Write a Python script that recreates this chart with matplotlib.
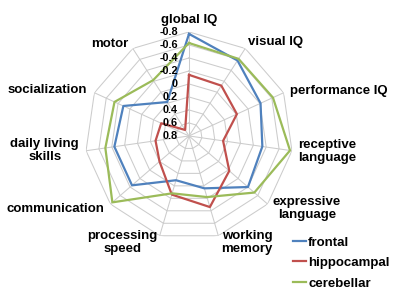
import numpy as np
import matplotlib.pyplot as plt

plt.rcParams['font.family'] = ['Liberation Sans', 'DejaVu Sans']

# radar categories, clockwise from the top
categories = ['global IQ', 'visual IQ', 'performance IQ', 'receptive\nlanguage',
              'expressive\nlanguage', 'working\nmemory', 'processing\nspeed',
              'communication', 'daily living\nskills', 'socialization', 'motor']

frontal = [-0.77, -0.58, -0.41, -0.34, -0.40, -0.04, 0.09, -0.36, -0.36, -0.31, 0.18]
hippocampal = [-0.14, -0.12, -0.01, 0.27, -0.02, -0.34, -0.14, 0.20, 0.28, 0.33, 0.69]
cerebellar = [-0.63, -0.61, -0.62, -0.77, -0.53, -0.18, -0.12, -0.76, -0.50, -0.46, -0.22]

series_names = ['frontal', 'hippocampal', 'cerebellar']
colors = ['#4F81BD', '#C0504D', '#9BBB59']

ticks = [-0.8, -0.6, -0.4, -0.2, 0, 0.2, 0.4, 0.6, 0.8]
v_top = 0.8  # value at the centre (axis is reversed)

fig = plt.figure(figsize=(4, 2.93), dpi=100)
ax = fig.add_axes([0.2125, 0.181, 0.52, 0.71], projection='polar')
ax.set_theta_offset(np.pi / 2)
ax.set_theta_direction(-1)
ax.set_ylim(0, v_top - ticks[0])
ax.grid(False)
ax.spines['polar'].set_visible(False)
ax.set_xticks([])
ax.set_yticks([])
ax.patch.set_alpha(0)

n = len(categories)
theta = np.arange(n) * 2 * np.pi / n
theta_c = np.append(theta, theta[0])

# polygon gridlines and spokes
for t in ticks:
    r = v_top - t
    ax.plot(theta_c, [r] * (n + 1), color='#CCCCCC', lw=0.75, zorder=1)
for th in theta:
    ax.plot([th, th], [0, v_top - ticks[0]], color='#CCCCCC', lw=0.75, zorder=1)

handles = []
for name, vals, c in zip(series_names, [frontal, hippocampal, cerebellar], colors):
    r = [v_top - v for v in vals]
    h, = ax.plot(theta_c, r + r[:1], color=c, lw=1.6, label=name, zorder=3)
    handles.append(h)

# value labels along the top spoke
for t in ticks:
    ax.annotate('%g' % t, xy=(0, v_top - t), xytext=(-11, 0), textcoords='offset pixels',
                ha='right', va='center', fontsize=7.8, fontweight='bold', color='#000000')

# category labels: (dx, dy, ha) in pixels from the outer vertex
label_offsets = [(0, 12, 'center'), (3, 6, 'left'), (6, 2, 'left'), (6, -1, 'left'),
                 (5, -4, 'left'), (3, -7, 'left'), (-2, -7, 'right'), (-6, -5, 'right'),
                 (-7, 0, 'right'), (-7, 3, 'right'), (-4, 4, 'right')]
for th, lab, (dx, dy, ha) in zip(theta, categories, label_offsets):
    ax.annotate(lab, xy=(th, v_top - ticks[0]), xytext=(dx, dy), textcoords='offset pixels',
                ha=ha, va='center', multialignment='center', linespacing=1.12,
                fontsize=9.5, fontweight='bold', annotation_clip=False)

fig.legend(handles=handles, loc='upper left', bbox_to_anchor=(0.7325, 0.193),
           frameon=False, borderpad=0, borderaxespad=0, handlelength=1.0,
           handletextpad=0.15, labelspacing=0.62,
           prop={'size': 9.5, 'weight': 'bold'})

fig.savefig('out.png', dpi=100)
